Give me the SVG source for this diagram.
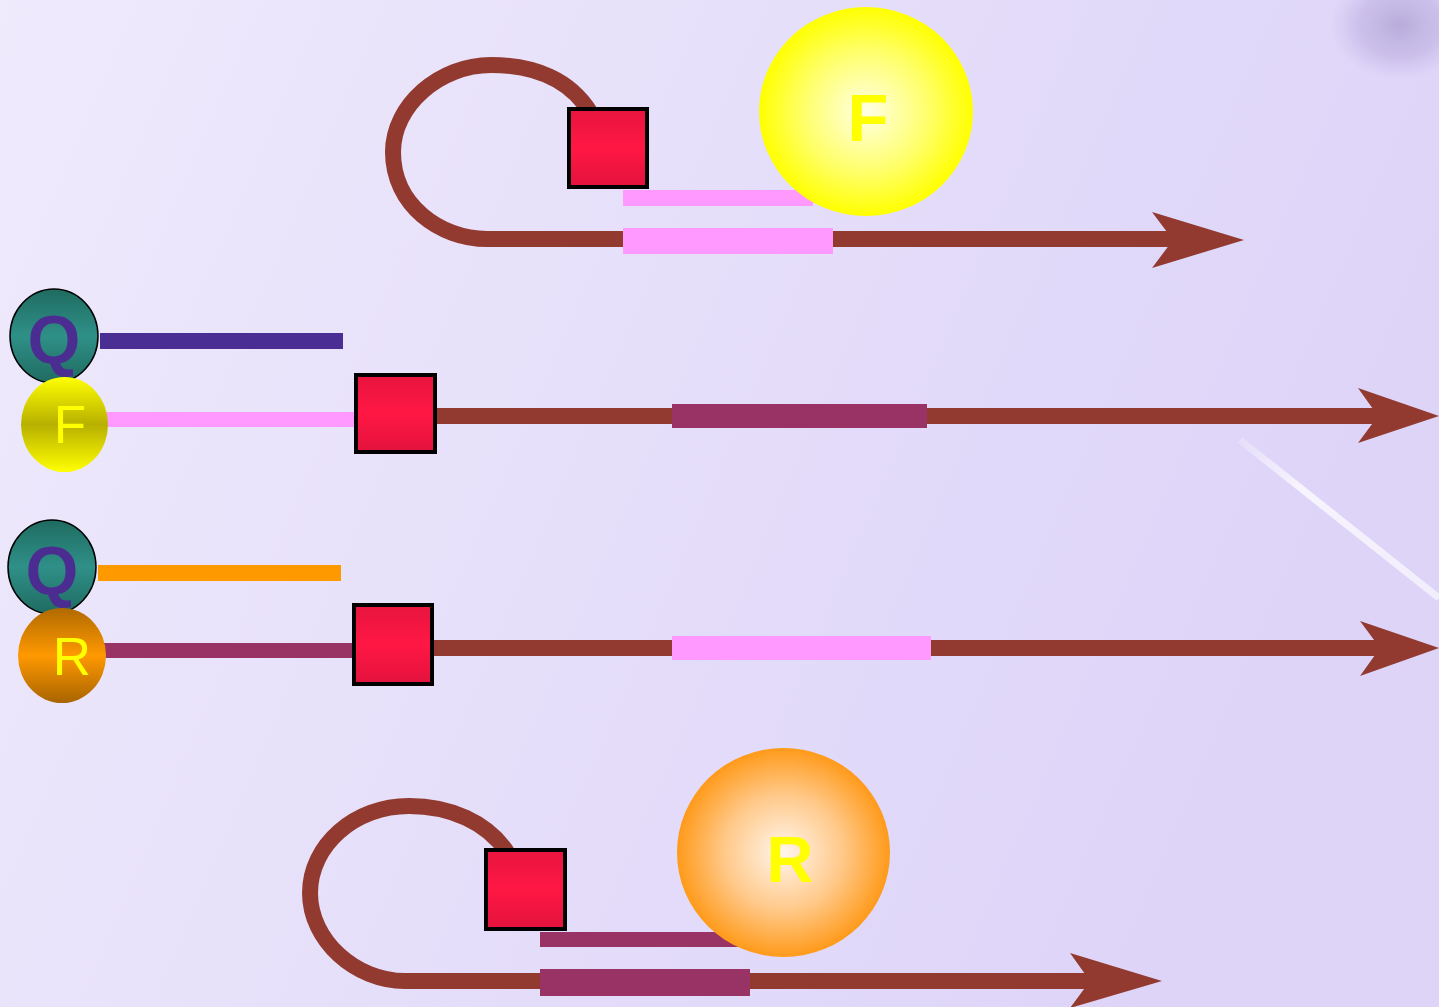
<svg xmlns="http://www.w3.org/2000/svg" width="1439" height="1007" viewBox="0 0 1439 1007">
<defs>
<linearGradient id="bg" x1="0" y1="0" x2="1" y2="0.3">
<stop offset="0" stop-color="#efeafc"/>
<stop offset="0.5" stop-color="#e6dffa"/>
<stop offset="1" stop-color="#ddd4f8"/>
</linearGradient>
<radialGradient id="blob" cx="0.5" cy="0.5" r="0.5">
<stop offset="0" stop-color="#b4a7d8" stop-opacity="0.9"/>
<stop offset="0.6" stop-color="#bfb2e2" stop-opacity="0.6"/>
<stop offset="1" stop-color="#c8bdea" stop-opacity="0"/>
</radialGradient>
<linearGradient id="streak" x1="1240" y1="440" x2="1439" y2="598" gradientUnits="userSpaceOnUse">
<stop offset="0" stop-color="#ffffff" stop-opacity="0.2"/>
<stop offset="0.3" stop-color="#ffffff" stop-opacity="0.75"/>
<stop offset="1" stop-color="#ffffff" stop-opacity="0.6"/>
</linearGradient>
<linearGradient id="sq" x1="0" y1="0" x2="0" y2="1">
<stop offset="0" stop-color="#e8143f"/>
<stop offset="0.5" stop-color="#ff1744"/>
<stop offset="1" stop-color="#e3123d"/>
</linearGradient>
<linearGradient id="qg" x1="0" y1="0" x2="0" y2="1">
<stop offset="0" stop-color="#1f6b60"/>
<stop offset="0.5" stop-color="#2f9088"/>
<stop offset="1" stop-color="#1f6b60"/>
</linearGradient>
<linearGradient id="fg" x1="0" y1="0" x2="0" y2="1">
<stop offset="0" stop-color="#ffff00"/>
<stop offset="0.5" stop-color="#b8b000"/>
<stop offset="1" stop-color="#ffff00"/>
</linearGradient>
<linearGradient id="rg" x1="0" y1="0" x2="0" y2="1">
<stop offset="0" stop-color="#b06a00"/>
<stop offset="0.5" stop-color="#ff9900"/>
<stop offset="1" stop-color="#a86400"/>
</linearGradient>
<radialGradient id="bigf" cx="0.5" cy="0.5" r="0.5">
<stop offset="0" stop-color="#ffffe6"/>
<stop offset="0.6" stop-color="#ffff66"/>
<stop offset="1" stop-color="#ffff00"/>
</radialGradient>
<radialGradient id="bigr" cx="0.5" cy="0.5" r="0.5">
<stop offset="0" stop-color="#fff6ec"/>
<stop offset="0.55" stop-color="#ffc98a"/>
<stop offset="1" stop-color="#ff9a1a"/>
</radialGradient>
</defs>
<style>
.ln{fill:none;stroke:#923a2f;stroke-width:16}
.head{fill:#923a2f}
.sqr{fill:url(#sq);stroke:#000;stroke-width:4}
.pink{fill:#ff99ff}
.mag{fill:#993366}
.lbl{font-family:"Liberation Sans",Arial,sans-serif;fill:#ffff00;text-anchor:middle}
.q{font-family:"Liberation Sans",Arial,sans-serif;font-weight:bold;fill:#4b2d91;text-anchor:middle;font-size:68px}
</style>
<rect width="1439" height="1007" fill="url(#bg)"/>
<ellipse cx="1400" cy="25" rx="70" ry="55" fill="url(#blob)"/>
<line x1="1240" y1="440" x2="1439" y2="598" stroke="url(#streak)" stroke-width="7"/>

<g id="connectors">
<path class="ln" d="M590,112 C570,80 535,65 491,65 C440,65 393,105 393,152 C393,205 440,239 487,239 L1175,239"/>
<polygon class="head" points="1152,212 1244,240 1152,268 1173,240"/>
<line class="ln" x1="430" y1="416" x2="1380" y2="416"/>
<polygon class="head" points="1358,388 1439,416 1358,443 1378,416"/>
<line class="ln" x1="430" y1="648" x2="1382" y2="648"/>
<polygon class="head" points="1360,621 1439,648 1360,676 1380,648"/>
<path class="ln" d="M507,852 C487,822 450,806 409,806 C355,806 310,845 310,893 C310,940 355,981 405,981 L1092,981"/>
<polygon class="head" points="1070,953 1162,981 1070,1008 1090,981"/>
</g>

<g id="top-probe">
<rect class="pink" x="623" y="190" width="190" height="16"/>
<rect class="pink" x="623" y="228" width="210" height="26"/>
<rect class="sqr" x="569" y="109" width="78" height="78"/>
</g>
<g id="top-F">
<ellipse cx="866" cy="111.5" rx="107" ry="104.5" fill="url(#bigf)"/>
<text class="lbl" x="868" y="141" font-size="67" font-weight="bold">F</text>
</g>

<g id="row1-Q">
<rect x="100" y="333" width="243" height="16" fill="#4b2e93"/>
<ellipse cx="54" cy="336" rx="44" ry="47" fill="url(#qg)" stroke="#000" stroke-width="1.5"/>
<text class="q" x="54" y="363">Q</text>
</g>
<g id="row1-F">
<rect class="pink" x="106" y="412" width="250" height="15"/>
<ellipse cx="64.5" cy="424.5" rx="43.5" ry="47.5" fill="url(#fg)"/>
<text class="lbl" x="70" y="443" font-size="53">F</text>
<rect class="sqr" x="356" y="375" width="79" height="77"/>
<rect class="mag" x="672" y="404" width="255" height="24"/>
</g>

<g id="row2-Q">
<rect x="98" y="565" width="243" height="16" fill="#ff9900"/>
<ellipse cx="52" cy="567" rx="44" ry="47" fill="url(#qg)" stroke="#000" stroke-width="1.5"/>
<text class="q" x="52" y="594">Q</text>
</g>
<g id="row2-R">
<rect class="mag" x="104" y="643" width="250" height="15"/>
<ellipse cx="62" cy="655.5" rx="44" ry="47.5" fill="url(#rg)"/>
<text class="lbl" x="72" y="675" font-size="53">R</text>
<rect class="sqr" x="354" y="605" width="78" height="79"/>
<rect class="pink" x="672" y="636" width="259" height="24"/>
</g>

<g id="bottom-probe">
<rect class="mag" x="540" y="932" width="210" height="15"/>
<rect class="mag" x="540" y="969" width="210" height="27"/>
<rect class="sqr" x="486" y="850" width="79" height="79"/>
</g>
<g id="bottom-R">
<ellipse cx="783.5" cy="852.5" rx="106.5" ry="104.5" fill="url(#bigr)"/>
<text class="lbl" x="790" y="882" font-size="65" font-weight="bold">R</text>
</g>
</svg>
